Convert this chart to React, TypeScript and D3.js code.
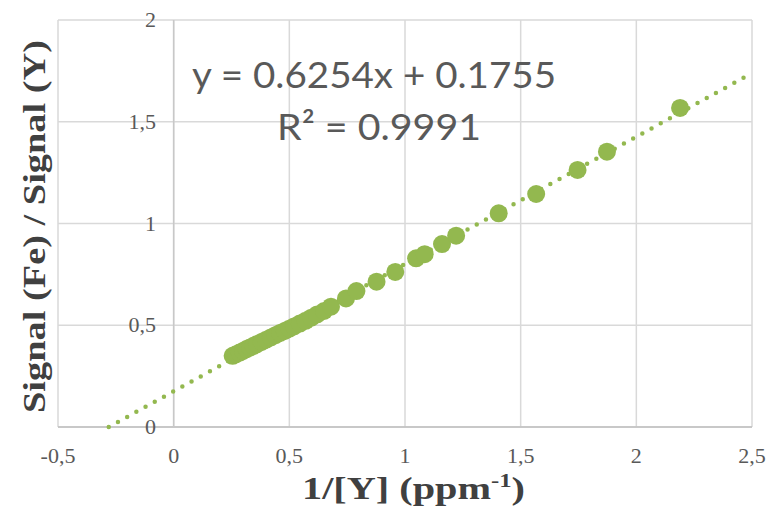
import React, { useEffect, useRef } from 'react'
import * as d3 from 'd3'

// ratio points
const invY = [0.255, 0.27, 0.285, 0.3, 0.315, 0.33, 0.345, 0.36, 0.38, 0.4, 0.42, 0.44, 0.46, 0.48, 0.5, 0.52, 0.545, 0.57, 0.595, 0.62, 0.65, 0.68, 0.745, 0.79, 0.877, 0.958, 1.048, 1.085, 1.16, 1.221, 1.405, 1.567, 1.746, 1.873, 2.189]
const ratio = [0.35, 0.358, 0.366, 0.374, 0.383, 0.391, 0.399, 0.407, 0.418, 0.429, 0.44, 0.451, 0.462, 0.472, 0.483, 0.494, 0.508, 0.522, 0.537, 0.553, 0.57, 0.591, 0.632, 0.668, 0.714, 0.762, 0.829, 0.849, 0.899, 0.94, 1.05, 1.145, 1.263, 1.353, 1.568]

const xTicks = [-0.5, 0, 0.5, 1, 1.5, 2, 2.5]
const yTicks = [0, 0.5, 1, 1.5, 2]

const slope = 0.6254
const intercept = 0.1755
const eqLines = ['y = 0.6254x + 0.1755', 'R² = 0.9991']

const W = 778
const H = 506
const green = '#93b84f'

const fmt = (v: number) => String(v).replace('.', ',')

export default function App () {
  const ref = useRef<SVGSVGElement>(null)

  useEffect(() => {
    const svg = d3.select(ref.current)
    svg.selectAll('*').remove()

    const x = d3.scaleLinear().domain([-0.5, 2.5]).range([58, 752])
    const y = d3.scaleLinear().domain([0, 2]).range([427, 20])

    // grid
    svg.append('g')
      .selectAll('line')
      .data(xTicks)
      .join('line')
      .attr('x1', d => x(d)).attr('x2', d => x(d))
      .attr('y1', y(0)).attr('y2', y(2))
      .attr('stroke', '#d9d9d9').attr('stroke-width', 1.5)
    svg.append('g')
      .selectAll('line')
      .data(yTicks)
      .join('line')
      .attr('x1', x(-0.5)).attr('x2', x(2.5))
      .attr('y1', d => y(d)).attr('y2', d => y(d))
      .attr('stroke', '#d9d9d9').attr('stroke-width', 1.5)

    // axes lines
    svg.append('line')
      .attr('x1', x(-0.5)).attr('x2', x(2.5)).attr('y1', y(0)).attr('y2', y(0))
      .attr('stroke', '#bfbfbf').attr('stroke-width', 1.5)
    svg.append('line')
      .attr('x1', x(0)).attr('x2', x(0)).attr('y1', y(0)).attr('y2', y(2))
      .attr('stroke', '#c8c8c8').attr('stroke-width', 1.5)

    // tick labels
    svg.append('g')
      .selectAll('text')
      .data(xTicks)
      .join('text')
      .attr('x', d => x(d)).attr('y', 463)
      .attr('text-anchor', 'middle')
      .attr('font-family', 'Liberation Serif, serif').attr('font-size', 22)
      .attr('fill', '#595959')
      .text(d => fmt(d))
    svg.append('g')
      .selectAll('text')
      .data(yTicks)
      .join('text')
      .attr('x', 156).attr('y', d => y(d) + 7)
      .attr('text-anchor', 'end')
      .attr('font-family', 'Liberation Serif, serif').attr('font-size', 22)
      .attr('fill', '#595959')
      .text(d => fmt(d))

    // trend line (dotted)
    const x0 = -intercept / slope
    svg.append('line')
      .attr('x1', x(x0)).attr('y1', y(0))
      .attr('x2', x(2.5)).attr('y2', y(slope * 2.5 + intercept))
      .attr('stroke', green).attr('stroke-width', 4.5)
      .attr('stroke-linecap', 'round')
      .attr('stroke-dasharray', '0 10.5')

    // points
    svg.append('g')
      .selectAll('circle')
      .data(invY)
      .join('circle')
      .attr('cx', d => x(d))
      .attr('cy', (d, i) => y(ratio[i]))
      .attr('r', 9)
      .attr('fill', green)

    // equation label
    svg.append('text')
      .attr('x', 192).attr('y', 88)
      .attr('font-family', 'Lato, sans-serif').attr('font-size', 37)
      .attr('fill', '#595959')
      .attr('textLength', 364).attr('lengthAdjust', 'spacingAndGlyphs')
      .text(eqLines[0])
    svg.append('text')
      .attr('x', 277).attr('y', 140)
      .attr('font-family', 'Lato, sans-serif').attr('font-size', 37)
      .attr('fill', '#595959')
      .attr('textLength', 204).attr('lengthAdjust', 'spacingAndGlyphs')
      .text(eqLines[1])

    // axis titles
    const xt = svg.append('text')
      .attr('x', 302).attr('y', 499)
      .attr('font-family', 'Liberation Serif, serif').attr('font-size', 31)
      .attr('font-weight', 'bold')
      .attr('fill', '#404040')
      .attr('textLength', 223).attr('lengthAdjust', 'spacingAndGlyphs')
    xt.append('tspan').text('1/[Y] (ppm')
    xt.append('tspan').attr('dy', -12).attr('font-size', 19).text('-1')
    xt.append('tspan').attr('dy', 12).text(')')

    svg.append('text')
      .attr('transform', 'translate(45,413) rotate(-90)')
      .attr('font-family', 'Liberation Serif, serif').attr('font-size', 32)
      .attr('font-weight', 'bold')
      .attr('fill', '#404040')
      .attr('textLength', 373).attr('lengthAdjust', 'spacingAndGlyphs')
      .text('Signal (Fe) / Signal (Y)')
  }, [])

  return (
    <svg ref={ref} width={W} height={H} style={{ position: 'absolute', left: 0, top: 0, background: '#fff' }} />
  )
}
